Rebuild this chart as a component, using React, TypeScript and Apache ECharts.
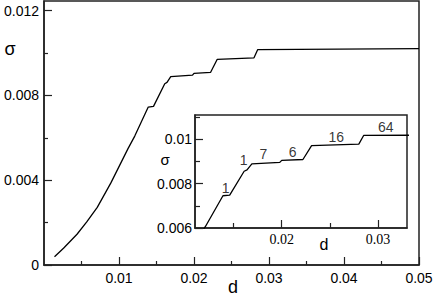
import React, { useEffect, useRef } from "react";
import * as echarts from "echarts";

// main curve: d vs sigma
const dValues = [0.0014, 0.0026, 0.0044, 0.0057, 0.0071, 0.0089, 0.0102, 0.0112, 0.0121, 0.0139, 0.0146, 0.0161, 0.0164, 0.0169, 0.0198, 0.0200, 0.0222, 0.0231, 0.0280, 0.0285, 0.0500];
const sigmaValues = [0.00039, 0.00079, 0.00145, 0.00203, 0.00272, 0.00386, 0.00478, 0.00549, 0.00608, 0.00745, 0.00748, 0.00855, 0.00861, 0.00888, 0.00895, 0.00904, 0.00908, 0.00970, 0.00977, 0.01016, 0.01020];

// inset annotations
const annoD = [0.01417, 0.01605, 0.01811, 0.02113, 0.02565, 0.03079];
const annoS = [0.00782, 0.00904, 0.00931, 0.00942, 0.0101, 0.01055];
const annoText = ["1", "1", "7", "6", "16", "64"];

// ticks
const mainXTicks = [0.01, 0.02, 0.03, 0.04, 0.05];
const mainXMinor = [0.005, 0.015, 0.025, 0.035, 0.045];
const mainYTicks = [0, 0.004, 0.008, 0.012];
const mainYMinor = [0.002, 0.006, 0.01];
const insetXTicks = [0.02, 0.03];
const insetXMinor = [0.015, 0.025];
const insetYTicks = [0.006, 0.008, 0.01];
const insetYMinor = [0.007, 0.009, 0.011];

const LINE = "#222";
const SANS = "Liberation Sans, Arial, Helvetica, sans-serif";
const SERIF = "Liberation Serif, Times New Roman, serif";

function majorAxis(grid: number, min: number, max: number, ticks: number[], len: number, labelMargin: number, font: string, extra: any = {}) {
  return {
    type: "value",
    gridIndex: grid,
    min,
    max,
    axisLine: { show: true, lineStyle: { color: LINE, width: 1.5 } },
    axisTick: { show: true, inside: true, length: len, customValues: ticks, lineStyle: { color: LINE, width: 1.2 } },
    axisLabel: {
      show: true,
      customValues: ticks,
      margin: labelMargin,
      color: "#000",
      fontSize: 14,
      fontFamily: font,
      formatter: (v: number) => (v === 0 ? "0" : String(+v.toFixed(4))),
    },
    splitLine: { show: false },
    ...extra,
  };
}

function minorAxis(grid: number, min: number, max: number, ticks: number[], len: number, extra: any = {}) {
  return {
    type: "value",
    gridIndex: grid,
    min,
    max,
    axisLine: { show: false },
    axisTick: { show: true, inside: true, length: len, customValues: ticks, lineStyle: { color: LINE, width: 1.2 } },
    axisLabel: { show: false },
    splitLine: { show: false },
    ...extra,
  };
}

export default function App() {
  const ref = useRef<HTMLDivElement>(null);
  useEffect(() => {
    if (!ref.current) return;
    const chart = echarts.init(ref.current, undefined, { renderer: "svg" });
    const mainData = dValues.map((d, i) => [d, sigmaValues[i]]);
    const annoData = annoD.map((d, i) => ({ value: [d, annoS[i]], name: annoText[i] }));
    chart.setOption({
      animation: false,
      backgroundColor: "#fff",
      grid: [
        { left: 44, top: 1, right: 17, bottom: 39, show: true, borderColor: LINE, borderWidth: 1.5, backgroundColor: "#fff" },
        { left: 195, top: 115, right: 29, bottom: 76, show: true, borderColor: LINE, borderWidth: 1.5, backgroundColor: "#fff", z: 5 },
      ],
      xAxis: [
        majorAxis(0, 0, 0.05, mainXTicks, 8, 6, SANS, { position: "bottom" }),
        minorAxis(0, 0, 0.05, mainXMinor, 4, { position: "bottom" }),
        majorAxis(1, 0.011, 0.033, insetXTicks, 8, 4, SERIF, { position: "bottom", z: 6 }),
        minorAxis(1, 0.011, 0.033, insetXMinor, 5, { position: "bottom", z: 6 }),
      ],
      yAxis: [
        majorAxis(0, 0, 0.01245, mainYTicks, 8, 5, SANS, { position: "left" }),
        minorAxis(0, 0, 0.01245, mainYMinor, 4, { position: "left" }),
        majorAxis(1, 0.006, 0.01108, insetYTicks, 8, 3, SANS, { position: "left", z: 6 }),
        minorAxis(1, 0.006, 0.01108, insetYMinor, 5, { position: "left", z: 6 }),
      ],
      series: [
        {
          type: "line",
          xAxisIndex: 0,
          yAxisIndex: 0,
          data: mainData,
          showSymbol: false,
          lineStyle: { color: "#000", width: 1.3 },
        },
        {
          type: "line",
          xAxisIndex: 2,
          yAxisIndex: 2,
          data: mainData,
          showSymbol: false,
          clip: true,
          z: 7,
          lineStyle: { color: "#000", width: 1.3 },
        },
        {
          type: "scatter",
          xAxisIndex: 2,
          yAxisIndex: 2,
          data: annoData,
          symbolSize: 0,
          itemStyle: { color: "#000" },
          z: 8,
          label: {
            show: true,
            position: "inside",
            formatter: (p: any) => p.name,
            color: "#000",
            textBorderWidth: 0,
            textBorderColor: "transparent",
            fontSize: 14,
            fontFamily: SANS,
          },
        },
      ],
      graphic: [
        { type: "text", x: 10, y: 49, z: 10, style: { text: "σ", font: `18px ${SANS}`, fill: "#000", textAlign: "center", textVerticalAlign: "middle" } },
        { type: "text", x: 233, y: 287, z: 10, style: { text: "d", font: `18px ${SANS}`, fill: "#000", textAlign: "center", textVerticalAlign: "middle" } },
        { type: "text", x: 165, y: 159, z: 10, style: { text: "σ", font: `15px ${SANS}`, fill: "#000", textAlign: "center", textVerticalAlign: "middle" } },
        { type: "text", x: 324, y: 244, z: 10, style: { text: "d", font: `16px ${SANS}`, fill: "#000", textAlign: "center", textVerticalAlign: "middle" } },
      ],
    });
    return () => chart.dispose();
  }, []);
  return <div ref={ref} style={{ position: "fixed", left: 0, top: 0, width: 436, height: 304 }} />;
}
